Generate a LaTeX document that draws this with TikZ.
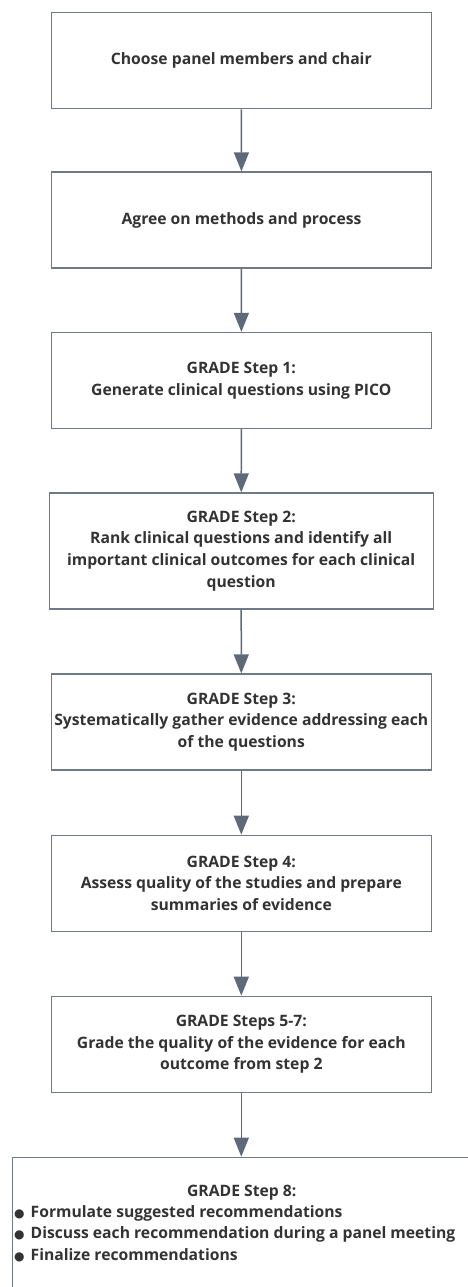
\documentclass[tikz,border=0pt]{standalone}
\usepackage{fontspec}
\setmainfont{Open Sans}[BoldFont={* Bold}]
\newfontfamily\dotfont{DejaVu Sans}
\usetikzlibrary{arrows.meta,positioning}
\definecolor{edgegray}{HTML}{6E7A88}
\definecolor{arrowgray}{HTML}{5E6A79}
\definecolor{inkgray}{HTML}{333333}
\tikzset{
  stepbox/.style={draw=edgegray, line width=1.3pt, fill=white, minimum width=380pt, minimum height=96pt, align=center, text=inkgray, font=\bfseries\fontsize{15.7}{21.7}\selectfont, inner sep=2pt},
  flow/.style={draw=arrowgray, line width=1.5pt, -{Triangle[width=15pt,length=19pt]}}
}
\newcommand{\dotitem}{{\dotfont\fontsize{12}{12}\selectfont ●}\hspace{6pt}}
\begin{document}
\begin{tikzpicture}[x=1pt,y=-1pt]
  \clip (0,0) rectangle (468,1287);
  \useasboundingbox (0,0) rectangle (468,1287);
  \node [stepbox] (panel) at (241.3,60.8) {Choose panel members and chair};
  \node [stepbox] (methods) at (241.5,220) {Agree on methods and process};
  \node [stepbox] (step1) at (241.3,380.5) {GRADE Step 1:\\Generate clinical questions using PICO};
  \node [stepbox, minimum width=384pt, minimum height=116pt] (step2) at (241.2,551) {GRADE Step 2:\\Rank clinical questions and identify all\\important clinical outcomes for each clinical\\question};
  \node [stepbox] (step3) at (241.3,722) {GRADE Step 3:\\Systematically gather evidence addressing each\\of the questions};
  \node [stepbox] (step4) at (241.3,883.3) {GRADE Step 4:\\Assess quality of the studies and prepare\\summaries of evidence};
  \node [stepbox] (step57) at (241.3,1044.3) {GRADE Steps 5-7:\\Grade the quality of the evidence for each\\outcome from step 2};
  \node [stepbox, minimum width=462pt, minimum height=150pt, anchor=north west] (step8) at (11.7,1156.7) {};
  \node [text=inkgray, font=\bfseries\fontsize{15.7}{21.7}\selectfont, inner sep=0pt] (step8title) at (241.7,1193) {GRADE Step 8:};
  \node [text=inkgray, font=\bfseries\fontsize{15.7}{21.7}\selectfont, align=left, anchor=north west, inner sep=0pt] (step8list) at (14,1205) {\dotitem Formulate suggested recommendations\\\dotitem Discuss each recommendation during a panel meeting\\\dotitem Finalize recommendations};

  \draw [flow] (panel) -- (methods);
  \draw [flow] (methods) -- (step1);
  \draw [flow] (step1) -- (step2);
  \draw [flow] (step2) -- (step3);
  \draw [flow] (step3) -- (step4);
  \draw [flow] (step4) -- (step57);
  \draw [flow] (step57.south) -- (step8.north -| step57.south);
\end{tikzpicture}
\end{document}
